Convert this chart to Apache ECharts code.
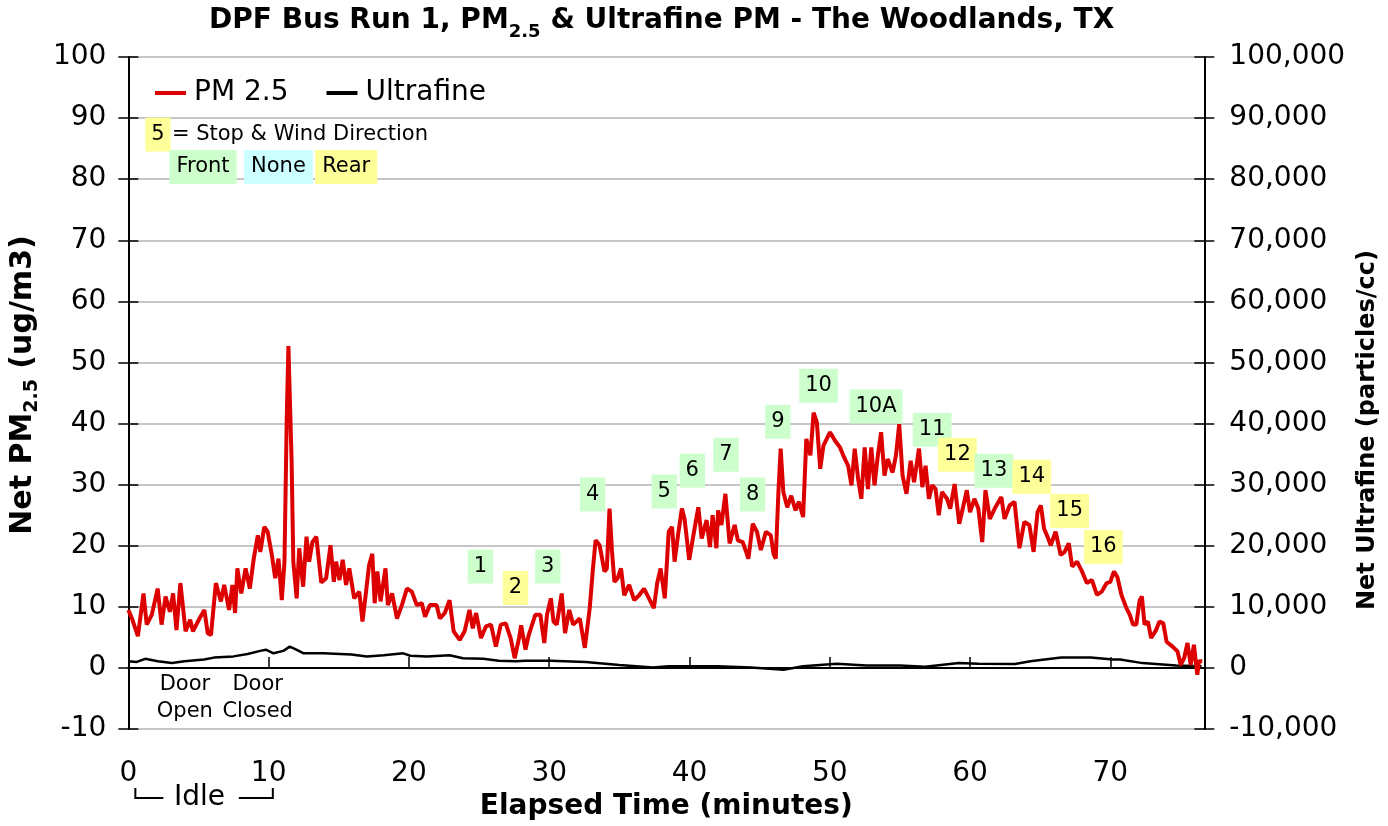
<!DOCTYPE html>
<html><head><meta charset="utf-8">
<script src="https://cdn.jsdelivr.net/npm/echarts@6/dist/echarts.min.js"></script>
<style>html,body{margin:0;padding:0;background:#fff}#c{width:1388px;height:826px}</style>
</head><body><div id="c"></div>
<script>
// ---- Data ----
const pmMinutes = [0,0.26,0.68,1.08,1.31,1.67,2.09,2.37,2.65,2.96,3.19,3.43,3.71,4.08,4.41,4.6,5.07,5.42,5.66,5.89,6.24,6.6,6.83,7.18,7.42,7.61,7.77,8.05,8.36,8.66,8.94,9.23,9.41,9.69,9.93,10.23,10.47,10.7,10.94,11.13,11.29,11.41,11.53,11.64,11.76,12.0,12.18,12.46,12.7,12.89,13.12,13.4,13.75,14.1,14.41,14.65,14.81,15.05,15.28,15.52,15.75,16.1,16.46,16.69,16.92,17.16,17.39,17.56,17.75,17.98,18.33,18.5,18.8,19.15,19.5,19.86,20.21,20.56,20.92,21.15,21.5,21.97,22.21,22.56,22.9,23.19,23.62,23.97,24.32,24.55,24.79,25.14,25.49,25.85,26.2,26.55,26.9,27.25,27.54,27.85,28.0,28.31,28.54,29.01,29.37,29.65,29.84,30.12,30.31,30.54,30.89,31.13,31.43,31.71,32.18,32.54,32.89,33.12,33.31,33.59,33.94,34.11,34.3,34.48,34.65,34.88,35.12,35.35,35.7,36.06,36.41,36.76,37.11,37.46,37.7,37.94,38.24,38.52,38.76,38.94,39.18,39.46,39.65,39.98,40.28,40.63,40.87,41.22,41.46,41.65,41.92,42.04,42.28,42.56,42.86,43.22,43.45,43.8,44.2,44.51,44.81,45.09,45.45,45.8,45.99,46.15,46.34,46.5,46.69,46.97,47.25,47.56,47.8,48.1,48.33,48.62,48.85,49.08,49.32,49.55,50.02,50.38,50.73,50.96,51.31,51.55,51.78,52.02,52.25,52.49,52.72,52.96,53.19,53.43,53.66,53.9,54.13,54.48,54.72,54.95,55.19,55.47,55.77,56.01,56.36,56.6,56.83,57.07,57.3,57.54,57.77,58.0,58.36,58.59,58.9,59.23,59.53,59.77,60.0,60.31,60.59,60.87,61.1,61.41,61.76,62.23,62.46,62.82,63.17,63.52,63.87,64.23,64.53,64.81,65.05,65.28,65.52,65.75,66.1,66.46,66.74,67.04,67.28,67.63,67.98,68.33,68.69,69.04,69.39,69.74,70.0,70.26,70.5,70.8,71.15,71.39,71.62,71.85,72.09,72.25,72.44,72.68,72.91,73.26,73.5,73.78,74.01,74.44,74.79,75.02,75.26,75.5,75.73,75.96,76.2,76.32,76.55];
const pmValues = [9.5,8.1,5.2,12.2,7.1,8.7,13.0,7.1,11.7,9.2,12.2,6.2,13.9,6.0,7.9,6.0,8.1,9.5,5.7,5.4,13.9,10.9,13.6,9.5,13.6,9.0,16.3,12.2,16.3,13.0,17.9,21.7,19.0,23.1,22.3,18.5,14.7,17.9,11.1,17.4,40.7,52.7,52.7,33.7,17.4,11.4,19.6,13.3,21.5,17.4,20.6,21.5,14.0,14.7,20.1,14.1,17.4,14.4,17.7,13.6,16.3,11.4,12.5,7.6,12.0,16.8,18.7,10.6,15.8,10.9,16.3,10.3,12.2,8.1,10.3,13.0,12.5,10.3,10.6,8.4,10.3,10.3,8.1,9.0,11.1,6.0,4.6,6.0,9.5,6.5,9.0,4.9,6.8,7.1,3.5,7.1,7.3,4.9,1.6,4.9,7.0,3.0,5.4,8.7,8.7,4.1,8.7,11.4,7.6,7.1,12.2,5.7,9.5,7.1,8.1,3.3,9.8,16.3,20.9,20.1,15.8,16.3,26.1,19.0,14.1,14.7,16.3,11.9,13.6,11.1,11.9,13.0,11.4,9.8,13.9,16.3,11.4,22.3,23.1,17.4,21.7,26.1,24.4,17.7,21.7,26.3,21.2,24.2,19.8,25.0,19.6,25.8,23.4,28.5,20.4,23.4,20.9,20.6,17.9,23.6,22.3,19.3,22.3,21.7,18.7,17.9,28.8,35.9,28.8,26.3,28.2,25.8,27.2,24.7,37.5,34.8,41.8,40.2,32.6,36.4,38.6,37.2,36.1,34.8,33.1,29.9,35.9,31.0,27.7,36.1,29.3,36.1,29.9,34.8,38.6,31.5,34.2,32.0,34.8,39.9,31.5,28.5,33.9,30.4,35.9,29.6,33.1,27.7,29.9,29.3,25.0,28.8,27.7,26.1,30.1,23.6,26.6,29.1,25.5,27.7,26.1,20.6,29.1,24.4,26.1,28.0,24.4,26.6,27.2,19.6,23.9,23.4,19.0,25.5,26.6,22.8,21.5,20.1,22.3,18.5,19.0,20.4,16.6,17.4,15.8,13.9,14.4,12.0,12.5,13.9,14.1,15.8,14.9,11.9,9.8,8.7,7.1,7.1,11.1,11.7,7.1,7.6,4.9,6.2,7.6,7.3,4.3,3.5,2.7,0.5,1.6,4.1,0.5,3.8,-1.1,1.1,1.1];
const ufMinutes = [0,0.6,1.2,2.1,3.1,4.0,5.4,6.1,7.5,8.5,9.4,9.8,10.35,11.05,11.5,11.9,12.5,13.9,15.9,17.0,18.2,19.6,20.1,21.3,22.9,23.85,25.3,26.4,27.6,28.3,30.1,32.6,35.0,37.4,38.5,40.2,42.0,44.4,46.7,48.1,50.5,52.6,55.0,56.8,59.2,60.6,63.2,64.3,66.5,68.6,70.2,70.7,72.3,74.7,76.5];
const ufValues = [1100,1000,1500,1100,800,1100,1400,1700,1900,2300,2800,3000,2400,2800,3500,3100,2400,2400,2200,1900,2100,2400,2000,1900,2100,1600,1500,1200,1100,1200,1200,1000,500,100,300,300,300,100,-300,300,700,400,400,200,800,700,650,1100,1700,1700,1400,1400,800,400,300];
const xTickLabels = [0,10,20,30,40,50,60,70];
const stopNames   = ['1','2','3','4','5','6','7','8','9','10','10A','11','12','13','14','15','16'];
const stopMinutes = [25.1,27.6,29.9,33.1,38.2,40.2,42.6,44.5,46.3,49.2,53.3,57.3,59.1,61.7,64.4,67.1,69.5];
const stopLevels  = [16.6,13.1,16.6,28.4,28.9,32.3,34.9,28.4,40.3,46.2,42.8,39.0,34.9,32.3,31.3,25.7,19.8];
const stopWind    = ['front','rear','front','front','front','front','front','front','front','front','front','front','rear','front','rear','rear','rear'];
const keyNames   = ['5','Front','None','Rear'];
const keyMinutes = [2.11,5.32,10.7,15.53];
const keyLevels  = [87.3,82.0,82.0,82.0];
const keyWind    = ['rear','front','none','rear'];
const doorNames   = ['Door\nOpen','Door\nClosed'];
const doorMinutes = [4.03,9.22];
const doorLevels  = [-4.95,-4.95];

const windColor = {front:'#ccffcc', none:'#ccffff', rear:'#ffff99'};
const F = "'DejaVu Sans', Verdana, sans-serif";

const pmData = pmMinutes.map((t,i)=>[t,pmValues[i]]);
const ufData = ufMinutes.map((t,i)=>[t,ufValues[i]]);

const txt = {color:'#000', fontFamily:F, fontSize:21, textBorderWidth:0, opacity:1};
const boxLabel = (name, wind) => Object.assign({
  show:true, position:'inside', formatter: name, lineHeight:22, padding:[6,6,6,6], backgroundColor: windColor[wind]
}, txt);
const annData = [];
stopNames.forEach((n,i)=>annData.push({name:n, value:[stopMinutes[i], stopLevels[i]], label: boxLabel(n, stopWind[i])}));
keyNames.forEach((n,i)=>annData.push({name:n, value:[keyMinutes[i], keyLevels[i]], label: Object.assign(boxLabel(n, keyWind[i]), n==='5'?{}:{padding:[6,7,6,7]})}));
annData.push({name:'key', value:[keyMinutes[0]+0.96, keyLevels[0]], label:Object.assign({show:true, position:'right', distance:0, formatter:'= Stop & Wind Direction'}, txt)});
doorNames.forEach((n,i)=>annData.push({name:n, value:[doorMinutes[i], doorLevels[i]], label:Object.assign({show:true, position:'inside', formatter:n, lineHeight:27, align:'center'}, txt)}));

const fmtComma = v => String(v).replace(/\B(?=(\d{3})+(?!\d))/g, ',');
const gridLine = {show:true, lineStyle:{color:'#c6c6c6', width:2}};
const tickLbl = {fontSize:28, color:'#000', fontFamily:F};

const chart = echarts.init(document.getElementById('c'), null, {renderer:'canvas'});
chart.setOption({
  animation:false,
  backgroundColor:'#fff',
  title:{
    text:'{b|DPF Bus Run 1, PM}{s|2.5}{b| & Ultrafine PM - The Woodlands, TX}',
    left:204, top:2,
    textStyle:{rich:{
      b:{fontSize:28, fontWeight:'bold', fontFamily:F, color:'#000', lineHeight:34, verticalAlign:'top'},
      s:{fontSize:18, fontWeight:'bold', fontFamily:F, color:'#000', lineHeight:16, verticalAlign:'bottom'}
    }}
  },
  legend:{
    left:150, top:74, itemWidth:31, itemHeight:4, itemGap:38, icon:'rect',
    textStyle:{fontSize:28, color:'#000', fontFamily:F, padding:[0,0,0,3]},
    data:['PM 2.5','Ultrafine']
  },
  grid:{left:123, right:176, top:57, bottom:94, containLabel:false},
  xAxis:[
    {type:'value', min:0, max:76.7, interval:10, position:'bottom',
     axisLine:{show:true, onZero:true, lineStyle:{color:'#000', width:2}},
     axisTick:{show:true, inside:true, length:11, lineStyle:{color:'#000', width:1.5}},
     axisLabel:{show:false}, splitLine:{show:false}},
    {type:'value', min:0, max:76.7, interval:10, position:'bottom',
     axisLine:{show:false, onZero:false}, axisTick:{show:false}, splitLine:{show:false},
     axisLabel:Object.assign({margin:31, showMaxLabel:false, formatter: v => xTickLabels.indexOf(Math.round(v*10)/10)>=0 ? String(v) : ''}, tickLbl),
     name:'Elapsed Time (minutes)', nameLocation:'middle', nameGap:62,
     nameTextStyle:{fontSize:28, fontWeight:'bold', color:'#000', fontFamily:F}}
  ],
  yAxis:[
    {type:'value', min:-10, max:100, interval:10, position:'left',
     axisLine:{show:true, onZero:false, lineStyle:{color:'#000', width:2}},
     axisTick:{show:true, inside:false, length:10, lineStyle:{color:'#000', width:1.5}},
     axisLabel:Object.assign({margin:22}, tickLbl), splitLine:gridLine,
     name:'{b|Net PM}{s|2.5}{b| (ug/m3)}', nameLocation:'middle', nameRotate:90, nameGap:83,
     nameTextStyle:{padding:[0,0,0,16], rich:{
       b:{fontSize:30, fontWeight:'bold', fontFamily:F, color:'#000', lineHeight:34, verticalAlign:'top'},
       s:{fontSize:19, fontWeight:'bold', fontFamily:F, color:'#000', lineHeight:17, verticalAlign:'bottom'}
     }}},
    {type:'value', min:-10000, max:100000, interval:10000, position:'right',
     axisLine:{show:true, onZero:false, lineStyle:{color:'#000', width:2}},
     axisTick:{show:true, inside:false, length:10, lineStyle:{color:'#000', width:1.5}},
     axisLabel:Object.assign({margin:25, formatter: fmtComma}, tickLbl), splitLine:{show:false},
     name:'Net Ultrafine (particles/cc)', nameLocation:'middle', nameRotate:90, nameGap:146,
     nameTextStyle:{fontSize:24, fontWeight:'bold', color:'#000', fontFamily:F, padding:[0,74,0,0]}},
    {type:'value', min:-10, max:100, interval:10, position:'left',
     axisLine:{show:false, onZero:false}, axisLabel:{show:false}, splitLine:{show:false},
     axisTick:{show:true, inside:true, length:10, lineStyle:{color:'#000', width:1.5}}},
    {type:'value', min:-10000, max:100000, interval:10000, position:'right',
     axisLine:{show:false, onZero:false}, axisLabel:{show:false}, splitLine:{show:false},
     axisTick:{show:true, inside:true, length:10, lineStyle:{color:'#000', width:1.5}}}
  ],
  series:[
    {name:'Ultrafine', type:'line', xAxisIndex:0, yAxisIndex:1, data:ufData, showSymbol:false,
     lineStyle:{color:'#000', width:2.5}, itemStyle:{color:'#000'}, z:2},
    {name:'PM 2.5', type:'line', xAxisIndex:0, yAxisIndex:0, data:pmData, showSymbol:false,
     lineStyle:{color:'#dd0000', width:4}, itemStyle:{color:'#dd0000'}, z:3},
    {name:'annotations', type:'scatter', xAxisIndex:0, yAxisIndex:0, data:annData,
     symbolSize:1, itemStyle:{color:'rgba(0,0,0,0)'}, z:5, silent:true}
  ]
});

// Idle bracket under the x-axis labels
const px = t => chart.convertToPixel({xAxisIndex:0}, t);
const x0 = px(0.5), x1 = px(10.3), xm = px(5.07);
const yT = 788, yB = 798;
chart.setOption({graphic:[
  {type:'polyline', shape:{points:[[x0,yT],[x0,yB],[x0+28,yB]]}, style:{stroke:'#000', lineWidth:2, fill:null}},
  {type:'polyline', shape:{points:[[x1-34,yB],[x1,yB],[x1,yT]]}, style:{stroke:'#000', lineWidth:2, fill:null}},
  {type:'text', x:xm, y:yB, style:{text:'Idle', font:"28px 'DejaVu Sans'", fill:'#000', align:'center', verticalAlign:'middle'}}
]});
</script></body></html>
